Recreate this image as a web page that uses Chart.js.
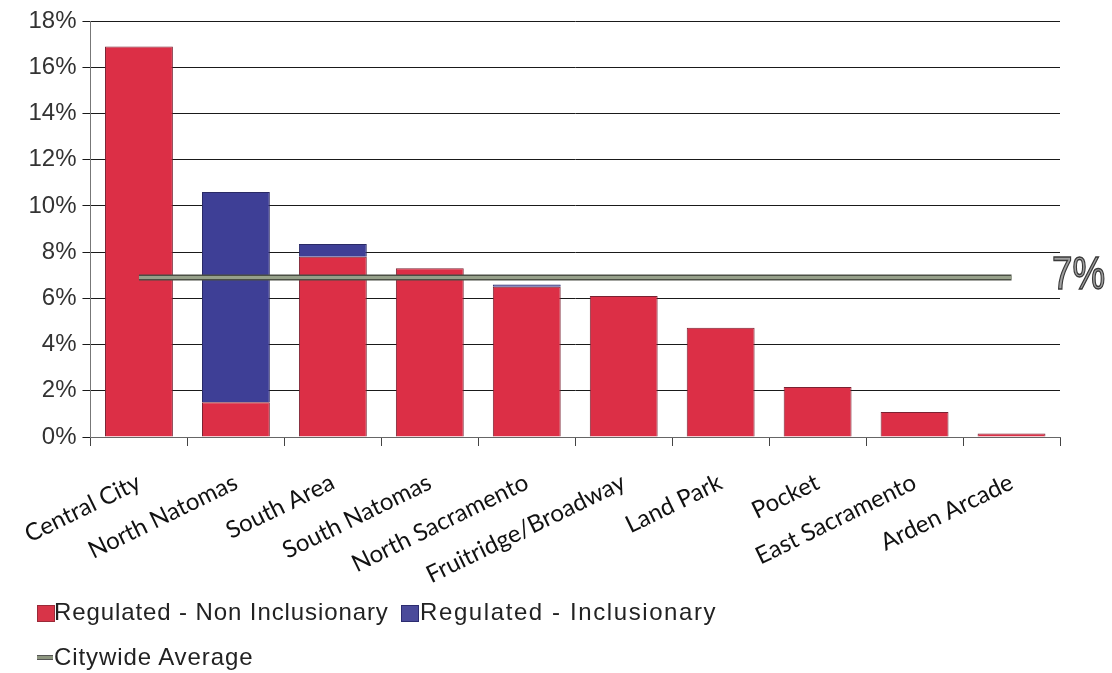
<!DOCTYPE html>
<html>
<head>
<meta charset="utf-8">
<script src="https://cdn.jsdelivr.net/npm/chart.js@4/dist/chart.umd.min.js"></script>
<style>
  html, body { margin: 0; padding: 0; background: #fff; }
  #wrap { position: relative; width: 1112px; height: 673px; }
  #c { position: absolute; left: 0; top: 0; }
  .leg { position: absolute; font-family: "Liberation Sans", Arial, sans-serif; font-size: 24px; color: #222; white-space: nowrap; letter-spacing: 0.9px; }
  .box { position: absolute; width: 16px; height: 15px; }
  .ln { position: absolute; width: 16px; height: 3px; background: #8d9680; border-top: 1px solid #555; border-bottom: 1px solid #555; }
</style>
</head>
<body>
<div id="wrap">
  <canvas id="c" width="1112" height="673"></canvas>
  <div class="box" style="left:37px;top:605px;background:#d83448;border:1px solid #9a2a38;"></div>
  <div class="leg" style="left:54px;top:598px;">Regulated - Non Inclusionary</div>
  <div class="box" style="left:401px;top:605px;background:#4a4a9a;border:1px solid #2c2c70;"></div>
  <div class="leg" style="left:420px;top:598px;letter-spacing:1.6px;">Regulated - Inclusionary</div>
  <div class="ln" style="left:37px;top:655px;"></div>
  <div class="leg" style="left:54px;top:643px;">Citywide Average</div>
</div>
<script>
const categories = ["Central City", "North Natomas", "South Area", "South Natomas", "North Sacramento",
  "Fruitridge/Broadway", "Land Park", "Pocket", "East Sacramento", "Arden Arcade"];
const nonInclusionary = [16.9, 1.5, 7.8, 7.3, 6.5, 6.1, 4.73, 2.16, 1.08, 0.15];
const inclusionary =    [0,    9.1, 0.55, 0,  0.1, 0,   0,    0,    0,    0];
const citywideAverage = [6.9, 6.9, 6.9, 6.9, 6.9, 6.9, 6.9, 6.9, 6.9, 6.9];
const yTicks = [0, 2, 4, 6, 8, 10, 12, 14, 16, 18];
const averageLabel = "7%";

const avgLabelPlugin = {
  id: 'avgLabel',
  afterDraw(chart) {
    const ctx = chart.ctx;
    const y = chart.scales.y.getPixelForValue(citywideAverage[0]);
    ctx.save();
    ctx.translate(1052, y - 1);
    ctx.scale(0.8, 1);
    ctx.font = '46px "Liberation Sans", Arial, sans-serif';
    ctx.textBaseline = 'middle';
    ctx.textAlign = 'left';
    ctx.fillStyle = '#a0a0a0';
    ctx.strokeStyle = '#3a3a3a';
    ctx.lineWidth = 1.4;
    ctx.fillText(averageLabel, 0, 0);
    ctx.strokeText(averageLabel, 0, 0);
    ctx.restore();
  }
};

new Chart(document.getElementById('c'), {
  type: 'bar',
  data: {
    labels: categories,
    datasets: [
      { type: 'line', label: 'avg-outline', data: citywideAverage, borderColor: '#4a4f44', borderWidth: 6,
        pointRadius: 0, order: 1, fill: false, stack: 'a1' },
      { type: 'line', label: 'Citywide Average', data: citywideAverage, borderColor: '#96a08a', borderWidth: 3,
        pointRadius: 0, order: 0, fill: false, stack: 'a2' },
      { label: 'Regulated - Non Inclusionary', data: nonInclusionary, backgroundColor: '#dc2f46',
        borderColor: '#7a2232', borderWidth: 1, stack: 's', order: 2,
        barPercentage: 0.7, categoryPercentage: 1.0 },
      { label: 'Regulated - Inclusionary', data: inclusionary, backgroundColor: '#3e3f96',
        borderColor: '#2a2a66', borderWidth: 1, stack: 's', order: 3,
        barPercentage: 0.7, categoryPercentage: 1.0 }
    ]
  },
  options: {
    responsive: false,
    animation: false,
    layout: { padding: { top: 21, right: 52, left: -2, bottom: 0 } },
    plugins: { legend: { display: false }, tooltip: { enabled: false } },
    scales: {
      x: {
        stacked: true,
        afterFit(s) { s.height = 236; },
        grid: { drawOnChartArea: false, drawTicks: true, tickLength: 9, color: '#444', offset: true },
        border: { color: '#666', width: 1 },
        ticks: {
          minRotation: 26, maxRotation: 26, color: '#111', padding: 22,
          font: { family: 'Lato, "Open Sans", sans-serif', size: 24 }
        }
      },
      y: {
        stacked: true,
        min: 0, max: 18,
        afterFit(s) { s.width = 88; },
        afterBuildTicks(s) { s.ticks = yTicks.map(v => ({ value: v })); },
        grid: { color: '#1a1a1a', lineWidth: 1, tickLength: 8, drawTicks: true },
        border: { color: '#777', width: 1 },
        ticks: {
          color: '#333', padding: 6,
          font: { family: '"Liberation Sans", Arial, sans-serif', size: 24 },
          callback: v => v + '%'
        }
      }
    }
  },
  plugins: [avgLabelPlugin]
});
</script>
</body>
</html>
